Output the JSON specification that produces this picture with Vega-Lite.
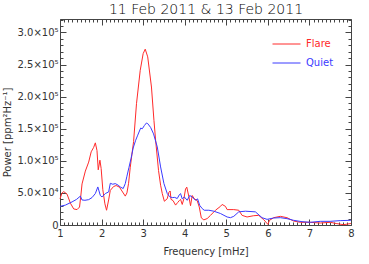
{
  "$schema": "https://vega.github.io/schema/vega-lite/v6.json",
  "width": 291,
  "height": 206,
  "autosize": {"type": "none"},
  "padding": {"left": 60, "top": 19, "right": 18, "bottom": 39},
  "background": "white",
  "config": {"view": {"stroke": null}, "font": "DejaVu Sans"},
  "data": {"values": [
    {"f": 1.00, "p": 41000, "s": "Flare"}, {"f": 1.05, "p": 50000, "s": "Flare"}, {"f": 1.09, "p": 52000, "s": "Flare"}, {"f": 1.17, "p": 48000, "s": "Flare"}, {"f": 1.25, "p": 34000, "s": "Flare"}, {"f": 1.33, "p": 25000, "s": "Flare"}, {"f": 1.41, "p": 24000, "s": "Flare"}, {"f": 1.47, "p": 28000, "s": "Flare"}, {"f": 1.50, "p": 45000, "s": "Flare"}, {"f": 1.53, "p": 64000, "s": "Flare"}, {"f": 1.61, "p": 84000, "s": "Flare"}, {"f": 1.69, "p": 98000, "s": "Flare"}, {"f": 1.75, "p": 114000, "s": "Flare"}, {"f": 1.81, "p": 121000, "s": "Flare"}, {"f": 1.85, "p": 128000, "s": "Flare"}, {"f": 1.89, "p": 116000, "s": "Flare"}, {"f": 1.92, "p": 86000, "s": "Flare"}, {"f": 1.96, "p": 101000, "s": "Flare"}, {"f": 1.99, "p": 88000, "s": "Flare"}, {"f": 2.03, "p": 55000, "s": "Flare"}, {"f": 2.08, "p": 33000, "s": "Flare"}, {"f": 2.12, "p": 23000, "s": "Flare"}, {"f": 2.17, "p": 39000, "s": "Flare"}, {"f": 2.21, "p": 54000, "s": "Flare"}, {"f": 2.29, "p": 60000, "s": "Flare"}, {"f": 2.35, "p": 61500, "s": "Flare"}, {"f": 2.43, "p": 59000, "s": "Flare"}, {"f": 2.49, "p": 53000, "s": "Flare"}, {"f": 2.57, "p": 45000, "s": "Flare"}, {"f": 2.61, "p": 50000, "s": "Flare"}, {"f": 2.65, "p": 65000, "s": "Flare"}, {"f": 2.69, "p": 90000, "s": "Flare"}, {"f": 2.73, "p": 110000, "s": "Flare"}, {"f": 2.77, "p": 130000, "s": "Flare"}, {"f": 2.84, "p": 189000, "s": "Flare"}, {"f": 2.93, "p": 241000, "s": "Flare"}, {"f": 3.00, "p": 267000, "s": "Flare"}, {"f": 3.05, "p": 274000, "s": "Flare"}, {"f": 3.11, "p": 262000, "s": "Flare"}, {"f": 3.20, "p": 215000, "s": "Flare"}, {"f": 3.26, "p": 163000, "s": "Flare"}, {"f": 3.30, "p": 132000, "s": "Flare"}, {"f": 3.37, "p": 85000, "s": "Flare"}, {"f": 3.42, "p": 62000, "s": "Flare"}, {"f": 3.46, "p": 49000, "s": "Flare"}, {"f": 3.51, "p": 37000, "s": "Flare"}, {"f": 3.58, "p": 41000, "s": "Flare"}, {"f": 3.62, "p": 51000, "s": "Flare"}, {"f": 3.65, "p": 53000, "s": "Flare"}, {"f": 3.67, "p": 40000, "s": "Flare"}, {"f": 3.72, "p": 38000, "s": "Flare"}, {"f": 3.78, "p": 31000, "s": "Flare"}, {"f": 3.83, "p": 35000, "s": "Flare"}, {"f": 3.87, "p": 38000, "s": "Flare"}, {"f": 3.90, "p": 40000, "s": "Flare"}, {"f": 3.94, "p": 32000, "s": "Flare"}, {"f": 3.98, "p": 41000, "s": "Flare"}, {"f": 4.02, "p": 56000, "s": "Flare"}, {"f": 4.05, "p": 59000, "s": "Flare"}, {"f": 4.10, "p": 44000, "s": "Flare"}, {"f": 4.14, "p": 30000, "s": "Flare"}, {"f": 4.18, "p": 46000, "s": "Flare"}, {"f": 4.23, "p": 41000, "s": "Flare"}, {"f": 4.30, "p": 38000, "s": "Flare"}, {"f": 4.35, "p": 28000, "s": "Flare"}, {"f": 4.40, "p": 11000, "s": "Flare"}, {"f": 4.46, "p": 8000, "s": "Flare"}, {"f": 4.54, "p": 10000, "s": "Flare"}, {"f": 4.62, "p": 15000, "s": "Flare"}, {"f": 4.74, "p": 23000, "s": "Flare"}, {"f": 4.86, "p": 29000, "s": "Flare"}, {"f": 4.90, "p": 32000, "s": "Flare"}, {"f": 4.98, "p": 29000, "s": "Flare"}, {"f": 5.02, "p": 24000, "s": "Flare"}, {"f": 5.18, "p": 24000, "s": "Flare"}, {"f": 5.30, "p": 23000, "s": "Flare"}, {"f": 5.38, "p": 15000, "s": "Flare"}, {"f": 5.50, "p": 12500, "s": "Flare"}, {"f": 5.66, "p": 14500, "s": "Flare"}, {"f": 5.78, "p": 15000, "s": "Flare"}, {"f": 5.90, "p": 8300, "s": "Flare"}, {"f": 6.00, "p": 1000, "s": "Flare"}, {"f": 6.04, "p": 7300, "s": "Flare"}, {"f": 6.14, "p": 11400, "s": "Flare"}, {"f": 6.30, "p": 13500, "s": "Flare"}, {"f": 6.46, "p": 11400, "s": "Flare"}, {"f": 6.62, "p": 6200, "s": "Flare"}, {"f": 6.78, "p": 4200, "s": "Flare"}, {"f": 7.02, "p": 4200, "s": "Flare"}, {"f": 7.26, "p": 3100, "s": "Flare"}, {"f": 7.50, "p": 4200, "s": "Flare"}, {"f": 7.66, "p": 2100, "s": "Flare"}, {"f": 7.82, "p": 500, "s": "Flare"}, {"f": 7.98, "p": 2100, "s": "Flare"}, {"f": 8.00, "p": 2500, "s": "Flare"},
    {"f": 1.00, "p": 29000, "s": "Quiet"}, {"f": 1.13, "p": 31000, "s": "Quiet"}, {"f": 1.29, "p": 36000, "s": "Quiet"}, {"f": 1.40, "p": 40000, "s": "Quiet"}, {"f": 1.49, "p": 45000, "s": "Quiet"}, {"f": 1.53, "p": 39000, "s": "Quiet"}, {"f": 1.60, "p": 38500, "s": "Quiet"}, {"f": 1.69, "p": 39500, "s": "Quiet"}, {"f": 1.77, "p": 42700, "s": "Quiet"}, {"f": 1.85, "p": 49000, "s": "Quiet"}, {"f": 1.91, "p": 59300, "s": "Quiet"}, {"f": 1.97, "p": 46000, "s": "Quiet"}, {"f": 2.01, "p": 43700, "s": "Quiet"}, {"f": 2.09, "p": 49000, "s": "Quiet"}, {"f": 2.17, "p": 51500, "s": "Quiet"}, {"f": 2.21, "p": 65000, "s": "Quiet"}, {"f": 2.27, "p": 63500, "s": "Quiet"}, {"f": 2.33, "p": 64500, "s": "Quiet"}, {"f": 2.40, "p": 62000, "s": "Quiet"}, {"f": 2.45, "p": 59300, "s": "Quiet"}, {"f": 2.52, "p": 56800, "s": "Quiet"}, {"f": 2.57, "p": 64500, "s": "Quiet"}, {"f": 2.61, "p": 76000, "s": "Quiet"}, {"f": 2.66, "p": 90000, "s": "Quiet"}, {"f": 2.71, "p": 104000, "s": "Quiet"}, {"f": 2.76, "p": 120000, "s": "Quiet"}, {"f": 2.82, "p": 132000, "s": "Quiet"}, {"f": 2.87, "p": 140000, "s": "Quiet"}, {"f": 2.94, "p": 151000, "s": "Quiet"}, {"f": 2.98, "p": 150000, "s": "Quiet"}, {"f": 3.03, "p": 155000, "s": "Quiet"}, {"f": 3.08, "p": 159000, "s": "Quiet"}, {"f": 3.11, "p": 158000, "s": "Quiet"}, {"f": 3.18, "p": 152000, "s": "Quiet"}, {"f": 3.25, "p": 142000, "s": "Quiet"}, {"f": 3.34, "p": 121700, "s": "Quiet"}, {"f": 3.42, "p": 90500, "s": "Quiet"}, {"f": 3.50, "p": 64600, "s": "Quiet"}, {"f": 3.58, "p": 49000, "s": "Quiet"}, {"f": 3.64, "p": 44000, "s": "Quiet"}, {"f": 3.70, "p": 42700, "s": "Quiet"}, {"f": 3.76, "p": 43000, "s": "Quiet"}, {"f": 3.82, "p": 41200, "s": "Quiet"}, {"f": 3.87, "p": 47000, "s": "Quiet"}, {"f": 3.90, "p": 49000, "s": "Quiet"}, {"f": 3.94, "p": 40700, "s": "Quiet"}, {"f": 3.99, "p": 43700, "s": "Quiet"}, {"f": 4.06, "p": 38500, "s": "Quiet"}, {"f": 4.12, "p": 46000, "s": "Quiet"}, {"f": 4.18, "p": 43700, "s": "Quiet"}, {"f": 4.26, "p": 38500, "s": "Quiet"}, {"f": 4.31, "p": 40700, "s": "Quiet"}, {"f": 4.36, "p": 30700, "s": "Quiet"}, {"f": 4.42, "p": 25600, "s": "Quiet"}, {"f": 4.47, "p": 23000, "s": "Quiet"}, {"f": 4.58, "p": 23000, "s": "Quiet"}, {"f": 4.70, "p": 21500, "s": "Quiet"}, {"f": 4.86, "p": 17900, "s": "Quiet"}, {"f": 5.02, "p": 12500, "s": "Quiet"}, {"f": 5.10, "p": 11400, "s": "Quiet"}, {"f": 5.18, "p": 13500, "s": "Quiet"}, {"f": 5.30, "p": 20500, "s": "Quiet"}, {"f": 5.46, "p": 21500, "s": "Quiet"}, {"f": 5.70, "p": 20500, "s": "Quiet"}, {"f": 5.86, "p": 11400, "s": "Quiet"}, {"f": 5.98, "p": 8800, "s": "Quiet"}, {"f": 6.14, "p": 10900, "s": "Quiet"}, {"f": 6.30, "p": 11400, "s": "Quiet"}, {"f": 6.46, "p": 9900, "s": "Quiet"}, {"f": 6.62, "p": 7300, "s": "Quiet"}, {"f": 6.82, "p": 5200, "s": "Quiet"}, {"f": 7.02, "p": 4200, "s": "Quiet"}, {"f": 7.26, "p": 5700, "s": "Quiet"}, {"f": 7.50, "p": 5700, "s": "Quiet"}, {"f": 7.74, "p": 6800, "s": "Quiet"}, {"f": 7.98, "p": 7300, "s": "Quiet"}, {"f": 8.00, "p": 7300, "s": "Quiet"}
  ]},
  "layer": [
    {
      "transform": [{"filter": "datum.s === 'Flare'"}],
      "mark": {"type": "line", "strokeWidth": 1, "interpolate": "linear"},
      "encoding": {
        "x": {"field": "f", "type": "quantitative",
          "scale": {"domain": [1, 8], "nice": false, "zero": false},
          "axis": {"orient": "bottom", "title": "Frequency [mHz]", "titleFont": "DejaVu Sans", "titleFontSize": 10, "titleFontWeight": "normal", "titleColor": "#333", "titlePadding": 5,
            "values": [1,1.1,1.2,1.3,1.4,1.5,1.6,1.7,1.8,1.9,2,2.1,2.2,2.3,2.4,2.5,2.6,2.7,2.8,2.9,3,3.1,3.2,3.3,3.4,3.5,3.6,3.7,3.8,3.9,4,4.1,4.2,4.3,4.4,4.5,4.6,4.7,4.8,4.9,5,5.1,5.2,5.3,5.4,5.5,5.6,5.7,5.8,5.9,6,6.1,6.2,6.3,6.4,6.5,6.6,6.7,6.8,6.9,7,7.1,7.2,7.3,7.4,7.5,7.6,7.7,7.8,7.9,8],
            "labelExpr": "datum.value % 1 === 0 ? '' + datum.value : ''",
            "labelFont": "DejaVu Sans", "labelFontSize": 10, "labelColor": "#333", "labelPadding": 9, "labelOverlap": false, "labelFlush": false, "labelBound": false,
            "tickSize": {"condition": {"test": "datum.value % 1 !== 0", "value": -3}, "value": -6},
            "tickColor": "#444", "tickWidth": 1, "domainColor": "#444", "domainWidth": 1, "grid": false}},
        "y": {"field": "p", "type": "quantitative",
          "scale": {"domain": [0, 321000], "nice": false},
          "axis": {"orient": "left", "title": "Power [ppm²Hz⁻¹]", "titleFont": "DejaVu Sans", "titleFontSize": 10, "titleFontWeight": "normal", "titleColor": "#333", "titlePadding": 4, "titleY": 113,
            "values": [0,10000,20000,30000,40000,50000,60000,70000,80000,90000,100000,110000,120000,130000,140000,150000,160000,170000,180000,190000,200000,210000,220000,230000,240000,250000,260000,270000,280000,290000,300000,310000,320000],
            "labelExpr": "datum.value % 50000 !== 0 ? '' : datum.value === 0 ? '0' : datum.value < 100000 ? format(datum.value / 10000, '.1f') + '×10⁴' : format(datum.value / 100000, '.1f') + '×10⁵'",
            "labelFont": "DejaVu Sans", "labelFontSize": 10, "labelColor": "#333", "labelPadding": 8, "labelOverlap": false, "labelFlush": false, "labelBound": false,
            "tickSize": {"condition": {"test": "datum.value % 50000 !== 0", "value": -3}, "value": -6},
            "tickColor": "#444", "tickWidth": 1, "domainColor": "#444", "domainWidth": 1, "grid": false}},
        "color": {"field": "s", "type": "nominal",
          "scale": {"domain": ["Flare", "Quiet"], "range": ["#ff2a2a", "#3a3aff"]},
          "legend": {"orient": "none", "legendX": 212, "legendY": 18, "title": null, "symbolType": "stroke", "symbolSize": 784, "symbolStrokeWidth": 1, "symbolOffset": 0, "padding": 0, "clipHeight": 14, "rowPadding": 5, "labelOffset": 5, "labelFont": "DejaVu Sans", "labelFontSize": 10,
            "encode": {"labels": {"update": {"fill": {"scale": "color", "field": "value"}}}}}}
      }
    },
    {
      "transform": [{"filter": "datum.s === 'Quiet'"}],
      "mark": {"type": "line", "strokeWidth": 1, "interpolate": "linear"},
      "encoding": {
        "x": {"field": "f", "type": "quantitative",
          "axis": {"orient": "top", "title": "11 Feb 2011 & 13 Feb 2011", "titleFont": "DejaVu Sans", "titleFontSize": 14, "titleFontWeight": 200, "titleColor": "#000", "titlePadding": 5, "titleBaseline": "alphabetic", "labels": false,
            "values": [1,1.1,1.2,1.3,1.4,1.5,1.6,1.7,1.8,1.9,2,2.1,2.2,2.3,2.4,2.5,2.6,2.7,2.8,2.9,3,3.1,3.2,3.3,3.4,3.5,3.6,3.7,3.8,3.9,4,4.1,4.2,4.3,4.4,4.5,4.6,4.7,4.8,4.9,5,5.1,5.2,5.3,5.4,5.5,5.6,5.7,5.8,5.9,6,6.1,6.2,6.3,6.4,6.5,6.6,6.7,6.8,6.9,7,7.1,7.2,7.3,7.4,7.5,7.6,7.7,7.8,7.9,8],
            "tickSize": {"condition": {"test": "datum.value % 1 !== 0", "value": -3}, "value": -6},
            "tickColor": "#444", "tickWidth": 1, "domainColor": "#444", "domainWidth": 1, "grid": false}},
        "y": {"field": "p", "type": "quantitative",
          "axis": {"orient": "right", "title": null, "labels": false,
            "values": [0,10000,20000,30000,40000,50000,60000,70000,80000,90000,100000,110000,120000,130000,140000,150000,160000,170000,180000,190000,200000,210000,220000,230000,240000,250000,260000,270000,280000,290000,300000,310000,320000],
            "tickSize": {"condition": {"test": "datum.value % 50000 !== 0", "value": -3}, "value": -6},
            "tickColor": "#444", "tickWidth": 1, "domainColor": "#444", "domainWidth": 1, "grid": false}},
        "color": {"field": "s", "type": "nominal",
          "scale": {"domain": ["Flare", "Quiet"], "range": ["#ff2a2a", "#3a3aff"]},
          "legend": {"orient": "none", "legendX": 212, "legendY": 18, "title": null, "symbolType": "stroke", "symbolSize": 784, "symbolStrokeWidth": 1, "symbolOffset": 0, "padding": 0, "clipHeight": 14, "rowPadding": 5, "labelOffset": 5, "labelFont": "DejaVu Sans", "labelFontSize": 10,
            "encode": {"labels": {"update": {"fill": {"scale": "color", "field": "value"}}}}}}
      }
    }
  ],
  "resolve": {"axis": {"x": "independent", "y": "independent"}}
}
